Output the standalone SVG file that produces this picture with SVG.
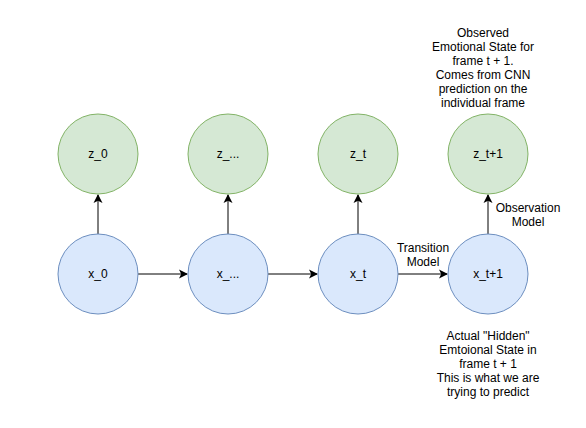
<svg xmlns="http://www.w3.org/2000/svg" width="586" height="428" viewBox="0 0 586 428">
<style>
text{font-family:"Liberation Sans",Arial,sans-serif;font-size:12px;fill:#000;text-anchor:middle}
.z{fill:#d5e8d4;stroke:#82b366;stroke-width:1}
.x{fill:#dae8fc;stroke:#6c8ebf;stroke-width:1}
.e{stroke:#000;stroke-width:1;fill:none;marker-end:url(#a)}
</style>
<defs>
<marker id="a" markerWidth="10" markerHeight="10" refX="8" refY="5" orient="auto" markerUnits="userSpaceOnUse">
<path d="M0,0.5 L9,5 L0,9.5 L2.2,5 Z" fill="#000"/>
</marker>
</defs>
<rect width="586" height="428" fill="#fff"/>
<g id="connectors">
<path class="e" d="M98,234 V195"/>
<path class="e" d="M228,234 V195"/>
<path class="e" d="M358,234 V195"/>
<path class="e" d="M488,234 V195"/>
<path class="e" d="M138,274 H187"/>
<path class="e" d="M268,274 H317"/>
<path class="e" d="M398,274 H447"/>
</g>
<g id="z_0"><circle class="z" cx="98" cy="154" r="40"/><text x="98" y="158">z_0</text></g>
<g id="z_dots"><circle class="z" cx="228" cy="154" r="40"/><text x="228" y="158">z_...</text></g>
<g id="z_t"><circle class="z" cx="358" cy="154" r="40"/><text x="358" y="158">z_t</text></g>
<g id="z_t1"><circle class="z" cx="488" cy="154" r="40"/><text x="488" y="158">z_t+1</text></g>
<g id="x_0"><circle class="x" cx="98" cy="274" r="40"/><text x="98" y="278">x_0</text></g>
<g id="x_dots"><circle class="x" cx="228" cy="274" r="40"/><text x="228" y="278">x_...</text></g>
<g id="x_t"><circle class="x" cx="358" cy="274" r="40"/><text x="358" y="278">x_t</text></g>
<g id="x_t1"><circle class="x" cx="488" cy="274" r="40"/><text x="488" y="278">x_t+1</text></g>
<g id="label_observed">
<text x="483" y="37">Observed</text>
<text x="483" y="51">Emotional State for</text>
<text x="483" y="65">frame t + 1.</text>
<text x="483" y="79">Comes from CNN</text>
<text x="483" y="93">prediction on the</text>
<text x="483" y="107">individual frame</text>
</g>
<g id="label_transition">
<text x="423" y="252">Transition</text>
<text x="423" y="266">Model</text>
</g>
<g id="label_observation">
<text x="528" y="212">Observation</text>
<text x="528" y="226">Model</text>
</g>
<g id="label_hidden">
<text x="488" y="340">Actual "Hidden"</text>
<text x="488" y="354">Emtoional State in</text>
<text x="488" y="368">frame t + 1</text>
<text x="488" y="382">This is what we are</text>
<text x="488" y="396">trying to predict</text>
</g>
</svg>
